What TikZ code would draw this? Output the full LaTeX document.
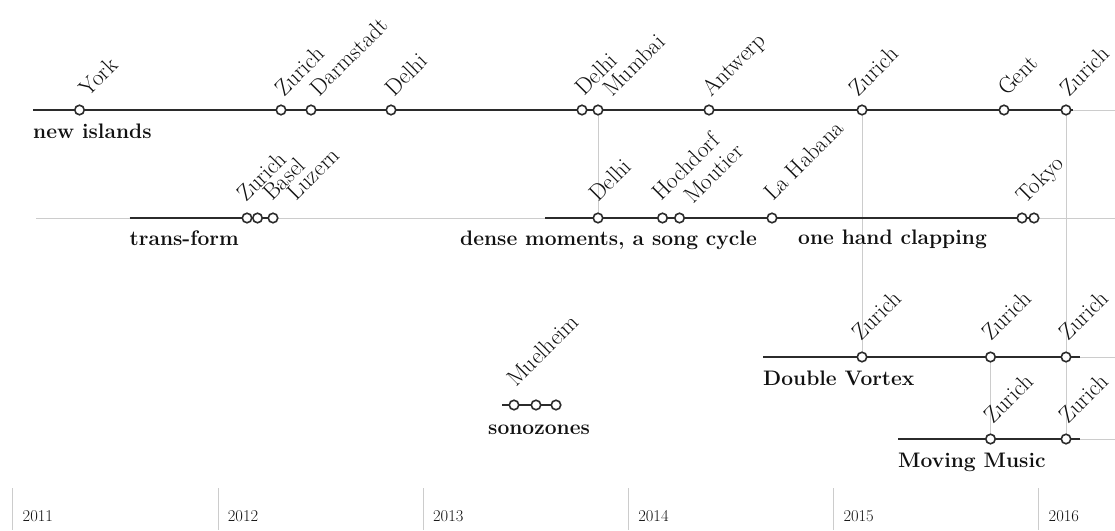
\documentclass[tikz,border=0pt]{standalone}
\usetikzlibrary{backgrounds}
\definecolor{trackc}{HTML}{2B2B2B}
\definecolor{guidec}{HTML}{CCCCCC}
\definecolor{inkc}{HTML}{111111}
\begin{document}
\begin{tikzpicture}[x=1pt,y=-1pt,
  track/.style={draw=trackc, line width=2pt},
  guide/.style={draw=guidec, line width=0.9pt},
  stop/.style={circle, draw=trackc, fill=white, line width=1.6pt, minimum size=9.5pt, inner sep=0pt},
  place/.style={rotate=45, anchor=base west, inner sep=0pt, text=inkc, font=\fontsize{23}{26}\selectfont},
  title/.style={anchor=base west, inner sep=0pt, text=inkc, font=\bfseries\fontsize{21}{24}\selectfont},
  yearlbl/.style={anchor=base west, inner sep=0pt, text=inkc, font=\fontsize{16.5}{18}\selectfont}]
\useasboundingbox (0,0) rectangle (1115,530);

% ---- new islands
\coordinate (niA) at (33,110);
\coordinate (niB) at (1115,110);
\node[stop] (ni1) at (79.5,110) {};
\node[stop] (ni2) at (281,110) {};
\node[stop] (ni3) at (311,110) {};
\node[stop] (ni4) at (391,110) {};
\node[stop] (ni5) at (582,110) {};
\node[stop] (ni6) at (598,110) {};
\node[stop] (ni7) at (709,110) {};
\node[stop] (ni8) at (862,110) {};
\node[stop] (ni9) at (1004,110) {};
\node[stop] (ni10) at (1066,110) {};
\node[place] (lni1) at (88,98) {York};
\node[place] (lni2) at (284,97.5) {Zurich};
\node[place] (lni3) at (319,97.5) {Darmstadt};
\node[place] (lni4) at (394,97.5) {Delhi};
\node[place] (lni5) at (584,97) {Delhi};
\node[place] (lni6) at (612,98) {Mumbai};
\node[place] (lni7) at (711,98) {Antwerp};
\node[place] (lni8) at (858,97.5) {Zurich};
\node[place] (lni9) at (1007,97) {Gent};
\node[place] (lni10) at (1069,97.5) {Zurich};
\node[title] (tni) at (33,138) {new islands};

% ---- trans-form / dense moments / one hand clapping
\coordinate (rbA) at (36,218);
\coordinate (rbB) at (1115,218);
\coordinate (tfA) at (129.5,218);
\coordinate (dmA) at (545,218);
\node[stop] (tf1) at (247,218) {};
\node[stop] (tf2) at (257.5,218) {};
\node[stop] (tf3) at (273,218) {};
\node[stop] (dm1) at (598,218) {};
\node[stop] (dm2) at (662.5,218) {};
\node[stop] (dm3) at (679.5,218) {};
\node[stop] (dm4) at (772,218) {};
\node[stop] (oh1) at (1022,218) {};
\node[stop] (oh2) at (1034,218) {};
\node[place] (ltf1) at (246,203) {Zurich};
\node[place] (ltf2) at (272,202) {Basel};
\node[place] (ltf3) at (296,202) {Luzern};
\node[place] (ldm1) at (598,203) {Delhi};
\node[place] (ldm2) at (661,202) {Hochdorf};
\node[place] (ldm3) at (693,205) {Moutier};
\node[place] (ldm4) at (773,202) {La Habana};
\node[place] (loh1) at (1025,205) {Tokyo};
\node[title] (ttf) at (129.5,245) {trans-form};
\node[title] (tdm) at (460,245) {dense moments, a song cycle};
\node[title] (toh) at (798,244) {one hand clapping};

% ---- sonozones
\coordinate (szA) at (502,405);
\node[stop] (sz1) at (514,405) {};
\node[stop] (sz2) at (536,405) {};
\node[stop] (sz3) at (556,405) {};
\node[place] (lsz1) at (516,388) {Muelheim};
\node[title] (tsz) at (488,434) {sonozones};

% ---- Double Vortex
\coordinate (dvA) at (763,357);
\coordinate (dvB) at (1080,357);
\coordinate (dvC) at (1115,357);
\node[stop] (dv1) at (862,357) {};
\node[stop] (dv2) at (990.5,357) {};
\node[stop] (dv3) at (1066,357) {};
\node[place] (ldv1) at (861,342) {Zurich};
\node[place] (ldv2) at (991,342) {Zurich};
\node[place] (ldv3) at (1068,342) {Zurich};
\node[title] (tdv) at (763,385) {Double Vortex};

% ---- Moving Music
\coordinate (mmA) at (898,439);
\coordinate (mmB) at (1080,439);
\coordinate (mmC) at (1115,439);
\node[stop] (mm1) at (990.5,439) {};
\node[stop] (mm2) at (1066,439) {};
\node[place] (lmm1) at (993,425) {Zurich};
\node[place] (lmm2) at (1068,425) {Zurich};
\node[title] (tmm) at (898,467) {Moving Music};

% ---- year axis
\foreach \i/\yr in {0/2011,1/2012,2/2013,3/2014,4/2015,5/2016}{
  \coordinate (yt\i) at ({12.9+205.2*\i},488);
  \coordinate (yb\i) at ({12.9+205.2*\i},530);
  \draw[guide] (yt\i) -- (yb\i);
  \node[yearlbl] (yl\i) at ({22.5+205.2*\i},521) {\yr};
}

\begin{scope}[on background layer]
  % faint base lines
  \draw[guide] (niA) -- (niB);
  \draw[guide] (rbA) -- (rbB);
  \draw[guide] (dvB) -- (dvC);
  \draw[guide] (mmB) -- (mmC);
  % links between shared events
  \draw[guide] (ni6.center) -- (dm1.center);
  \draw[guide] (ni8.center) -- (dv1.center);
  \draw[guide] (ni10.center) -- (mm2.center);
  \draw[guide] (dv2.center) -- (mm1.center);
  % project tracks
  \draw[track] (niA) -- (ni10.center) -- ++(7,0);
  \draw[track] (tfA) -- (tf3.center);
  \draw[track] (dmA) -- (oh2.center);
  \draw[track] (szA) -- (sz3.center);
  \draw[track] (dvA) -- (dvB);
  \draw[track] (mmA) -- (mmB);
\end{scope}
\end{tikzpicture}
\end{document}
